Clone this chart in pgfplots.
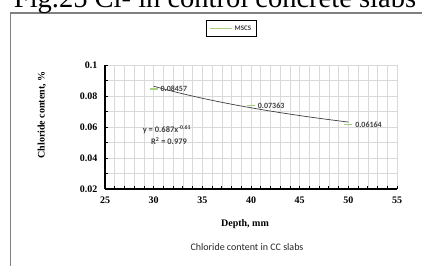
\documentclass[border=0pt]{standalone}
\usepackage{pgfplots}
\pgfplotsset{compat=1.18}
\usepackage{fontspec}
\setmainfont{Liberation Serif}
\newfontfamily\calfont{Carlito}
\definecolor{mgreen}{HTML}{A9CF7E}
\definecolor{gridc}{HTML}{D9D9D9}
\definecolor{framec}{HTML}{808080}
\definecolor{txt}{HTML}{404040}
\begin{document}
\begin{tikzpicture}[x=1pt,y=1pt]
\draw[framec, line width=1.2pt] (10.5,-5) -- (10.5,252) -- (430,252);
\node[anchor=base, font=\fontsize{28.5}{30}\selectfont, inner sep=0pt] at (215,257) {Fig.25 Cl- in control concrete slabs};
\begin{axis}[at={(105pt,76pt)}, anchor=south west, scale only axis,
  width=292pt, height=124pt,
  xmin=25, xmax=55, ymin=0.02, ymax=0.1,
  axis x line*=bottom, axis y line*=left,
  axis line style={black, line width=1.2pt, -},
  xtick={25,30,35,40,45,50,55}, ytick={0.02,0.04,0.06,0.08,0.1},
  minor x tick num=4, minor y tick num=1,
  grid=both,
  major grid style={gridc, line width=0.6pt},
  minor grid style={gridc, line width=0.6pt},
  tick align=inside, major tick length=3pt, minor tick length=3pt,
  tick style={black, line width=0.8pt},
  scaled y ticks=false,
  yticklabel style={/pgf/number format/fixed, /pgf/number format/precision=2, xshift=-4pt},
  /pgf/number format/assume math mode=true,
  ticklabel style={font=\bfseries\fontsize{10}{12}\selectfont},
  xticklabel style={yshift=-4pt},
  legend style={at={(axis description cs:0.433,1.294)}, anchor=center,
    draw=black, line width=1pt, inner xsep=3pt, inner ysep=2.5pt,
    font=\calfont\bfseries\fontsize{7}{8}\selectfont, text=txt},
]
\addplot[txt, line width=0.7pt, smooth, forget plot] coordinates {
  (30,0.08628) (32.5,0.08217) (35,0.07854) (37.5,0.07530) (40,0.07240)
  (42.5,0.06977) (45,0.06737) (47.5,0.06519) (50,0.06318)};
\addplot[only marks, mark=-, mark size=4pt, mgreen, line width=1.2pt,
  nodes near coords, point meta=explicit symbolic,
  every node near coord/.append style={anchor=west, xshift=3pt,
    font=\calfont\bfseries\fontsize{8}{9}\selectfont, text=txt},
  legend image code/.code={\path (-17pt,0pt) -- (0pt,0pt);
    \draw[mgreen, line width=0.9pt] (0pt,0pt) -- (5pt,0pt);}]
  table[meta=label] {
x y label
30 0.08457 0.08457
40 0.07363 0.07363
50 0.06164 0.06164
};
\addlegendentry{MSCS\hspace{9pt}}
\end{axis}
\node[font=\calfont\bfseries\fontsize{8.5}{9}\selectfont, text=txt] at (167,135) {y = 0.687x\textsuperscript{-0.61}};
\node[font=\calfont\bfseries\fontsize{8.5}{9}\selectfont, text=txt] at (169,124) {R\textsuperscript{2} = 0.979};
\node[rotate=90, font=\bfseries\fontsize{10}{12}\selectfont] at (42,150) {Chloride content, \%};
\node[font=\bfseries\fontsize{10}{12}\selectfont] at (245,41) {Depth, mm};
\node[font=\calfont\fontsize{10}{11}\selectfont, text=black!85] at (247,18) {Chloride content in CC slabs};
\pgfresetboundingbox
\path[use as bounding box] (0,0) rectangle (422,265);
\end{tikzpicture}
\end{document}
